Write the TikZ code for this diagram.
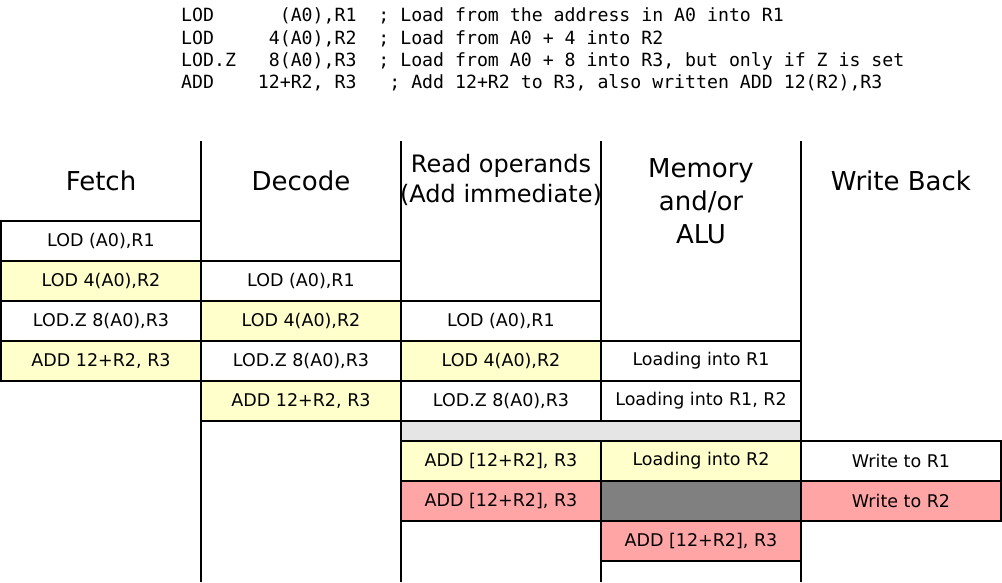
\documentclass[tikz,border=0pt]{standalone}
\usepackage{fontspec}
\setmainfont{DejaVu Sans}
\newfontfamily\codefont{DejaVu Sans Mono}
\definecolor{yel}{HTML}{FFFFCC}
\definecolor{pinkc}{HTML}{FFA5A5}
\definecolor{lgray}{HTML}{E5E5E5}
\definecolor{dgray}{HTML}{808080}
\tikzset{
  cell/.style={draw=black, line width=2pt, minimum width=200pt, minimum height=40pt, inner sep=0pt, font=\fontsize{17.5}{21}\selectfont},
  codeline/.style={anchor=base west, inner sep=0pt, font=\codefont\fontsize{18.2}{22}\selectfont},
  header/.style={align=center, inner sep=0pt, font=\fontsize{26}{33}\selectfont},
  sepline/.style={line width=2pt, black}
}
\begin{document}
\begin{tikzpicture}[x=1pt,y=-1pt]
\useasboundingbox (0,0) rectangle (1002,582);
% code
\node[codeline] (code1) at (181,21.5) {LOD\ \ \ \ \ \ (A0),R1\ \ ; Load from the address in A0 into R1};
\node[codeline] (code2) at (181,44) {LOD\ \ \ \ \ 4(A0),R2\ \ ; Load from A0 + 4 into R2};
\node[codeline] (code3) at (181,66.3) {LOD.Z\ \ \ 8(A0),R3\ \ ; Load from A0 + 8 into R3, but only if Z is set};
\node[codeline] (code4) at (181,88.6) {ADD\ \ \ \ 12+R2, R3\ \ \ ; Add 12+R2 to R3, also written ADD 12(R2),R3};
% headers
\node[header] (hfetch) at (101,181) {Fetch};
\node[header] (hdecode) at (301,181) {Decode};
\node[header, font=\fontsize{24}{30}\selectfont] (hread) at (501,180) {Read operands\\(Add immediate)};
\node[header] (hmem) at (701,201) {Memory\\and/or\\ALU};
\node[header] (hwb) at (901,181) {Write Back};
% fetch column
\node[cell] (f1) at (101,241) {LOD (A0),R1};
\node[cell, fill=yel] (f2) at (101,281) {LOD 4(A0),R2};
\node[cell] (f3) at (101,321) {LOD.Z 8(A0),R3};
\node[cell, fill=yel] (f4) at (101,361) {ADD 12+R2, R3};
% decode column
\node[cell] (d1) at (301,281) {LOD (A0),R1};
\node[cell, fill=yel] (d2) at (301,321) {LOD 4(A0),R2};
\node[cell] (d3) at (301,361) {LOD.Z 8(A0),R3};
\node[cell, fill=yel] (d4) at (301,401) {ADD 12+R2, R3};
% read operands column
\node[cell] (r1) at (501,321) {LOD (A0),R1};
\node[cell, fill=yel] (r2) at (501,361) {LOD 4(A0),R2};
\node[cell] (r3) at (501,401) {LOD.Z 8(A0),R3};
\node[cell, fill=yel] (r4) at (501,461) {ADD [12+R2], R3};
\node[cell, fill=pinkc] (r5) at (501,501) {ADD [12+R2], R3};
% memory column
\node[cell] (m1) at (701,361) {Loading into R1};
\node[cell] (m2) at (701,401) {Loading into R1, R2};
\node[cell, fill=yel] (m3) at (701,461) {Loading into R2};
\node[cell, fill=dgray] (m4) at (701,501) {};
\node[cell, fill=pinkc] (m5) at (701,541) {ADD [12+R2], R3};
% write back column
\node[cell] (w1) at (901,461) {Write to R1};
\node[cell, fill=pinkc] (w2) at (901,501) {Write to R2};
% column separators
\foreach \x in {201,401,601,801} {
  \coordinate (top\x) at (\x,141);
  \coordinate (bot\x) at (\x,582);
  \draw[sepline] (top\x) -- (bot\x);
}
% bubble across read and memory stages
\node[cell, fill=lgray, minimum width=400pt, minimum height=20pt] (bubble) at (601,431) {};
\end{tikzpicture}
\end{document}
